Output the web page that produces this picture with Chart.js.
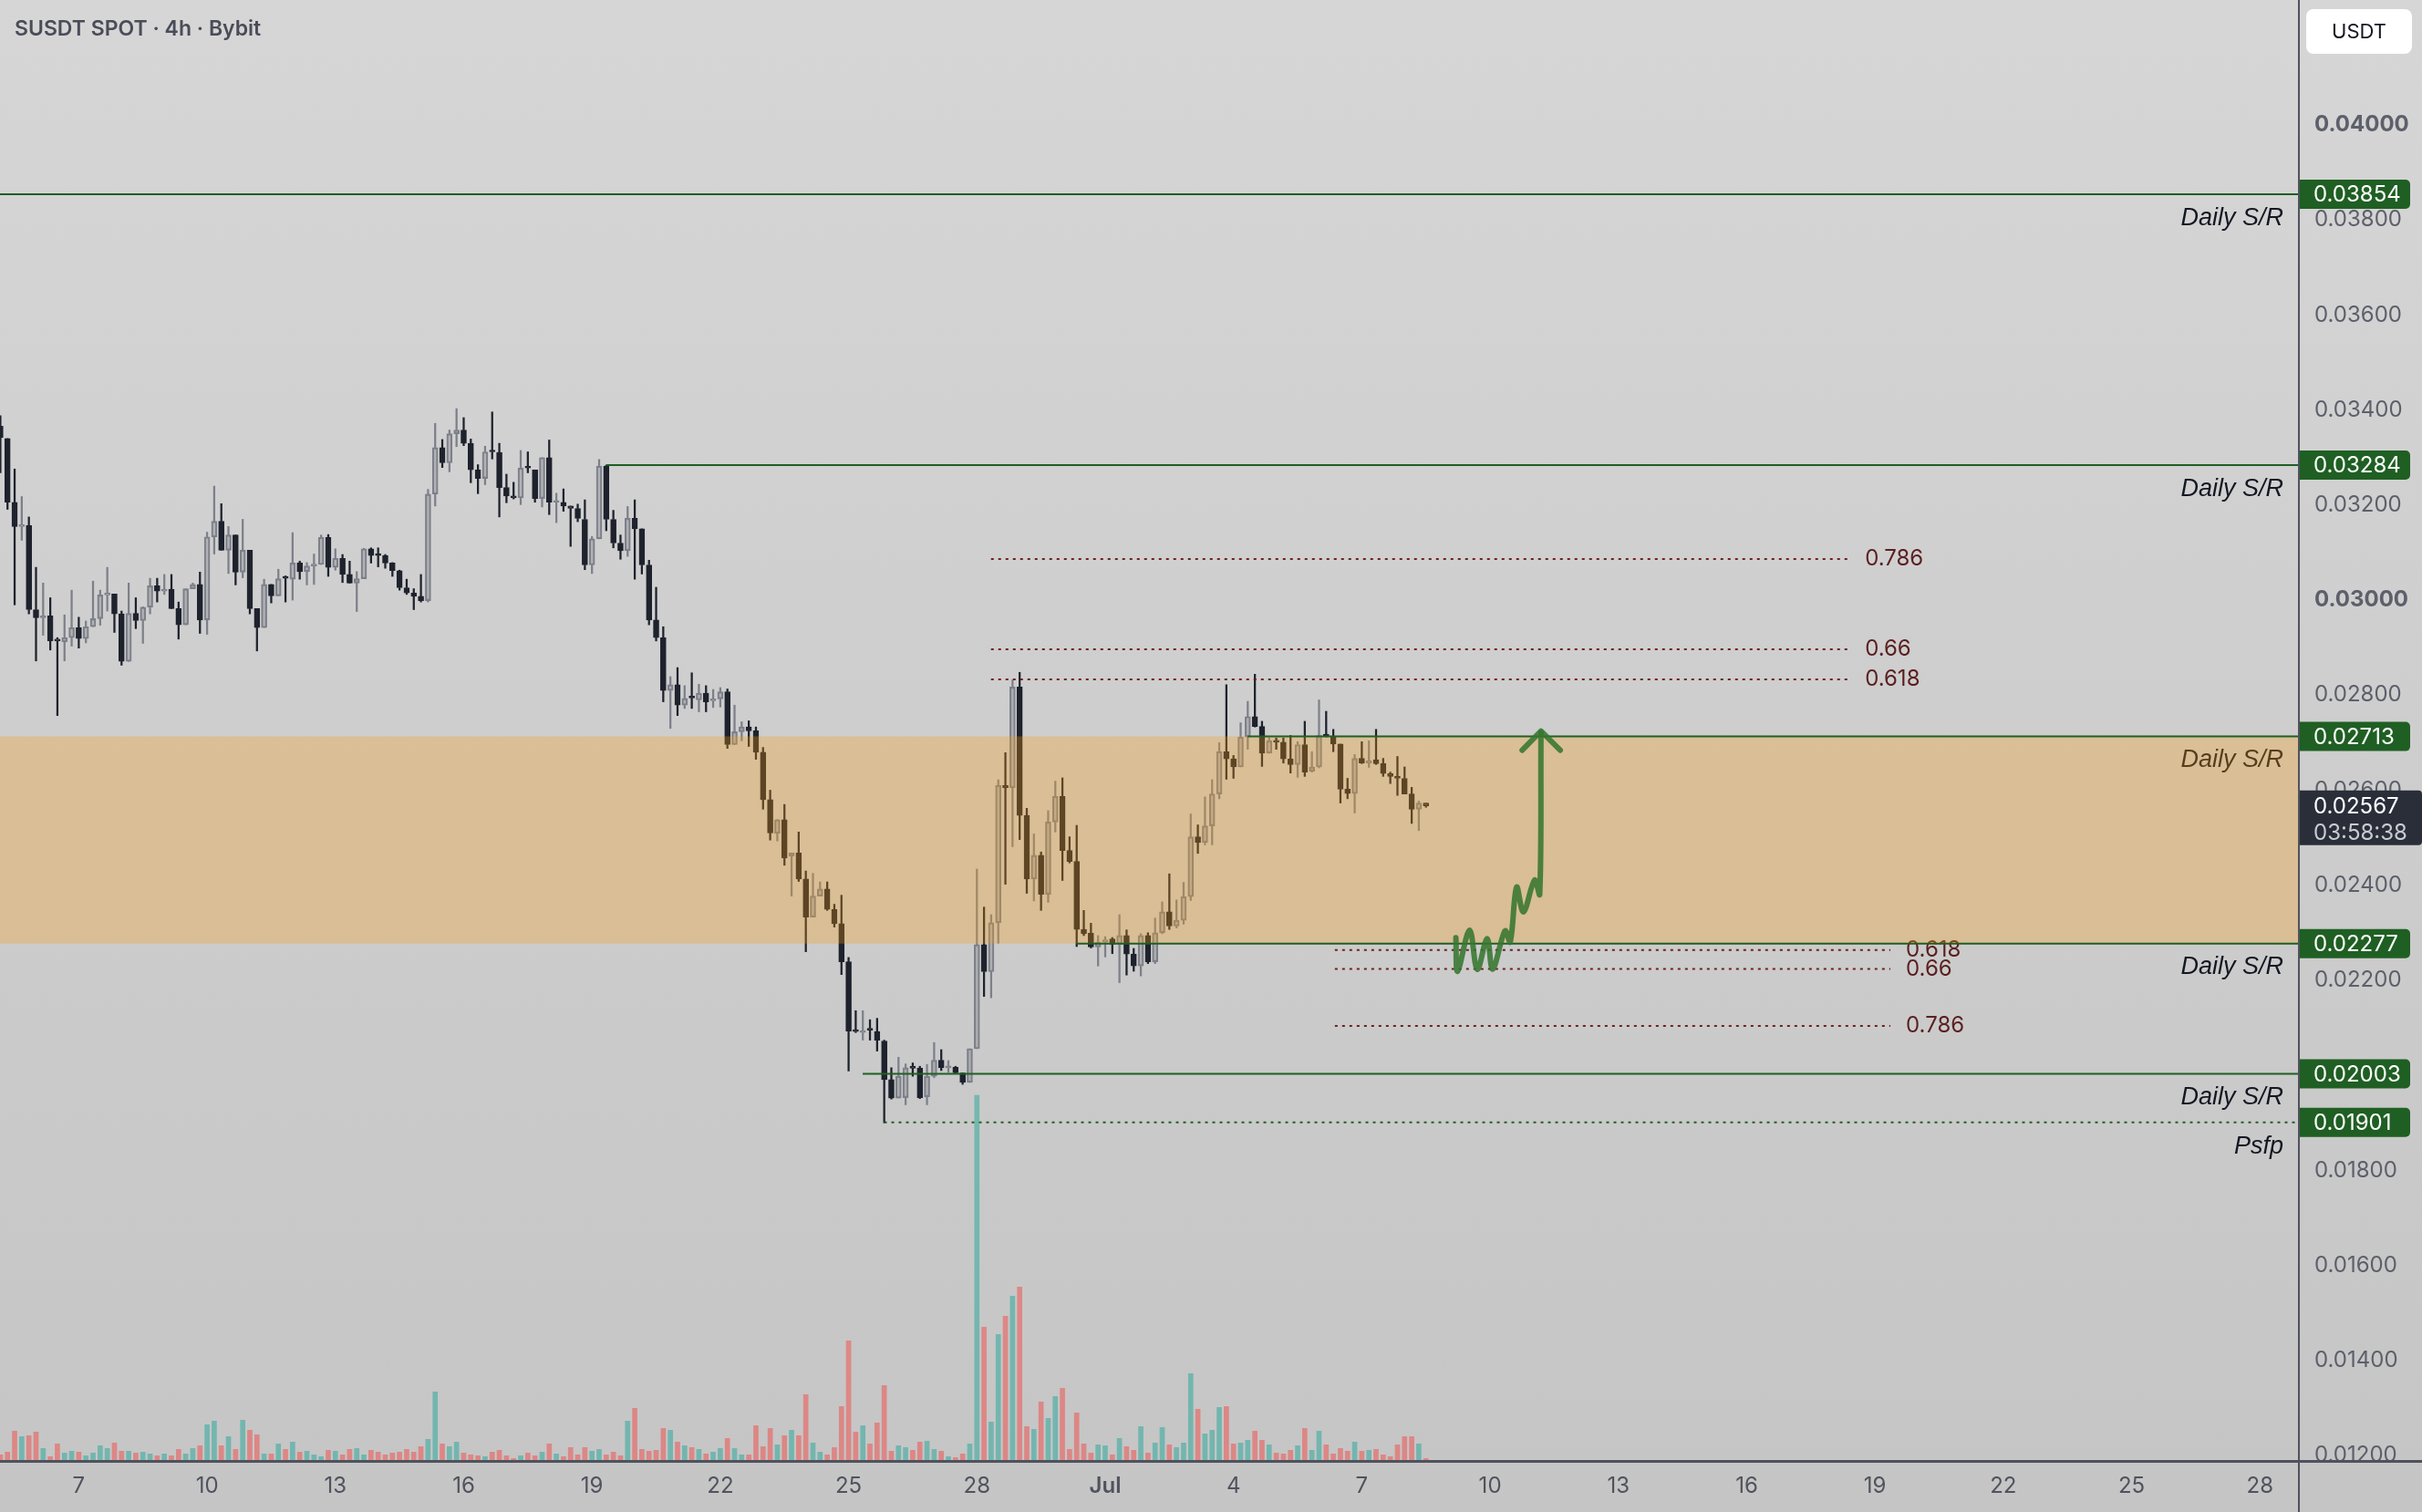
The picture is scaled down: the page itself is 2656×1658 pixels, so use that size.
<!DOCTYPE html>
<html lang="en">
<head>
<meta charset="UTF-8">
<title>SUSDT SPOT · 4h · Bybit</title>
<script src="https://cdn.jsdelivr.net/npm/chart.js"></script>
<style>
  html, body { margin: 0; padding: 0; }
  body { background: linear-gradient(#d6d6d6, #c5c5c5); }
  .wrap { position: relative; width: 2656px; height: 1658px; }
</style>
</head>
<body>
<div class="wrap"><canvas id="chart"></canvas></div>
<script>
// time axis is in "days of June" (31 = 1 Jul)
const firstCandle = 5 + 4 / 24;
const candleStep = 4 / 24;
const xMin = 5.158, xMax = 58.89;
const yMin = 0.011904, yMax = 0.042629;

const opens = [
  0.03366,0.03340,0.03206,0.03155,0.03157,0.02980,0.02963,0.02967,0.02918,0.02912,
  0.02921,0.02942,0.02919,0.02944,0.02961,0.03011,0.03013,0.02971,0.02871,0.02972,
  0.02957,0.02985,0.03030,0.03019,0.03023,0.02982,0.02948,0.03024,0.03033,0.02958,
  0.03133,0.03166,0.03105,0.03137,0.03059,0.03105,0.02982,0.02942,0.03033,0.03009,
  0.03049,0.03044,0.03078,0.03060,0.03072,0.03075,0.03132,0.03069,0.03088,0.03054,
  0.03036,0.03045,0.03108,0.03095,0.03094,0.03078,0.03062,0.03026,0.03015,0.03008,
  0.02999,0.03223,0.03321,0.03289,0.03350,0.03358,0.03330,0.03274,0.03256,0.03314,
  0.03311,0.03237,0.03219,0.03215,0.03280,0.03274,0.03214,0.03300,0.03206,0.03206,
  0.03198,0.03193,0.03170,0.03074,0.03129,0.03282,0.03170,0.03120,0.03104,0.03172,
  0.03150,0.03074,0.02958,0.02921,0.02810,0.02822,0.02779,0.02798,0.02790,0.02804,
  0.02788,0.02792,0.02807,0.02696,0.02723,0.02733,0.02725,0.02680,0.02580,0.02509,
  0.02538,0.02461,0.02468,0.02413,0.02333,0.02377,0.02392,0.02349,0.02319,0.02239,
  0.02095,0.02090,0.02099,0.02092,0.02072,0.01991,0.01952,0.01953,0.02019,0.02015,
  0.01955,0.01998,0.02032,0.02016,0.02017,0.02005,0.01985,0.02056,0.02275,0.02218,
  0.02321,0.02610,0.02605,0.02817,0.02547,0.02413,0.02463,0.02381,0.02533,0.02587,
  0.02473,0.02450,0.02307,0.02299,0.02270,0.02280,0.02287,0.02276,0.02294,0.02255,
  0.02230,0.02294,0.02239,0.02300,0.02344,0.02314,0.02326,0.02376,0.02502,0.02490,
  0.02525,0.02592,0.02681,0.02666,0.02649,0.02712,0.02755,0.02734,0.02678,0.02704,
  0.02701,0.02666,0.02654,0.02696,0.02640,0.02649,0.02716,0.02714,0.02697,0.02602,
  0.02593,0.02667,0.02657,0.02664,0.02656,0.02635,0.02629,0.02625,0.02592,0.02560,
  0.02573
];
const highs = [
  0.03388,0.03340,0.03276,0.03218,0.03175,0.03069,0.03036,0.03005,0.02921,0.02969,
  0.03021,0.02964,0.02956,0.03040,0.03021,0.03069,0.03013,0.02977,0.03036,0.03005,
  0.02986,0.03046,0.03046,0.03054,0.03054,0.02996,0.03024,0.03036,0.03059,0.03143,
  0.03240,0.03203,0.03155,0.03137,0.03170,0.03105,0.02982,0.03044,0.03033,0.03065,
  0.03051,0.03142,0.03082,0.03079,0.03097,0.03137,0.03138,0.03108,0.03096,0.03082,
  0.03060,0.03109,0.03110,0.03110,0.03096,0.03079,0.03063,0.03044,0.03024,0.03054,
  0.03233,0.03372,0.03338,0.03358,0.03403,0.03384,0.03339,0.03285,0.03324,0.03396,
  0.03330,0.03265,0.03248,0.03315,0.03312,0.03274,0.03300,0.03337,0.03225,0.03234,
  0.03198,0.03202,0.03211,0.03134,0.03296,0.03284,0.03189,0.03137,0.03197,0.03211,
  0.03150,0.03084,0.03027,0.02944,0.02839,0.02858,0.02820,0.02847,0.02823,0.02820,
  0.02812,0.02816,0.02813,0.02779,0.02744,0.02746,0.02733,0.02690,0.02600,0.02538,
  0.02570,0.02468,0.02512,0.02430,0.02425,0.02407,0.02407,0.02360,0.02379,0.02248,
  0.02136,0.02136,0.02117,0.02120,0.02074,0.02016,0.02038,0.02024,0.02026,0.02019,
  0.02023,0.02069,0.02054,0.02031,0.02019,0.02005,0.02056,0.02434,0.02354,0.02338,
  0.02622,0.02679,0.02832,0.02848,0.02562,0.02508,0.02470,0.02557,0.02619,0.02626,
  0.02502,0.02526,0.02347,0.02320,0.02294,0.02292,0.02290,0.02338,0.02306,0.02267,
  0.02298,0.02300,0.02331,0.02365,0.02424,0.02369,0.02406,0.02550,0.02527,0.02586,
  0.02622,0.02700,0.02822,0.02673,0.02742,0.02787,0.02844,0.02745,0.02710,0.02710,
  0.02710,0.02715,0.02702,0.02745,0.02681,0.02790,0.02766,0.02728,0.02697,0.02625,
  0.02675,0.02702,0.02704,0.02728,0.02667,0.02638,0.02671,0.02649,0.02606,0.02577,
  0.02573
];
const lows = [
  0.03268,0.03191,0.02990,0.03126,0.02971,0.02872,0.02926,0.02895,0.02757,0.02872,
  0.02903,0.02899,0.02910,0.02944,0.02947,0.02977,0.02932,0.02863,0.02871,0.02940,
  0.02909,0.02971,0.02996,0.03012,0.02982,0.02918,0.02948,0.03024,0.02930,0.02928,
  0.03097,0.03105,0.03056,0.03032,0.03047,0.02971,0.02893,0.02942,0.02994,0.03009,
  0.02996,0.03000,0.03044,0.03032,0.03033,0.03075,0.03050,0.03063,0.03037,0.03036,
  0.02976,0.03045,0.03078,0.03070,0.03067,0.03050,0.03021,0.03012,0.02980,0.02996,
  0.02996,0.03198,0.03279,0.03270,0.03323,0.03325,0.03247,0.03224,0.03243,0.03297,
  0.03175,0.03205,0.03213,0.03201,0.03268,0.03206,0.03196,0.03180,0.03163,0.03187,
  0.03113,0.03165,0.03064,0.03056,0.03129,0.03146,0.03110,0.03086,0.03092,0.03044,
  0.03055,0.02948,0.02914,0.02786,0.02730,0.02757,0.02772,0.02772,0.02765,0.02765,
  0.02774,0.02775,0.02688,0.02696,0.02704,0.02692,0.02665,0.02560,0.02495,0.02493,
  0.02442,0.02377,0.02408,0.02260,0.02333,0.02377,0.02347,0.02312,0.02212,0.02009,
  0.02090,0.02074,0.02074,0.02051,0.01900,0.01950,0.01952,0.01938,0.01998,0.01951,
  0.01938,0.01995,0.02010,0.02006,0.02003,0.01981,0.01985,0.02056,0.02166,0.02163,
  0.02278,0.02402,0.02481,0.02496,0.02383,0.02367,0.02347,0.02364,0.02512,0.02410,
  0.02447,0.02271,0.02294,0.02268,0.02230,0.02249,0.02256,0.02195,0.02211,0.02219,
  0.02209,0.02235,0.02235,0.02298,0.02307,0.02310,0.02318,0.02368,0.02467,0.02485,
  0.02485,0.02582,0.02623,0.02625,0.02649,0.02686,0.02733,0.02650,0.02678,0.02686,
  0.02657,0.02636,0.02627,0.02629,0.02638,0.02647,0.02712,0.02681,0.02573,0.02582,
  0.02552,0.02656,0.02648,0.02654,0.02629,0.02614,0.02589,0.02592,0.02530,0.02515,
  0.02564
];
const closes = [
  0.03342,0.03206,0.03155,0.03158,0.02980,0.02963,0.02965,0.02914,0.02914,0.02921,
  0.02942,0.02919,0.02944,0.02961,0.03011,0.03014,0.02971,0.02871,0.02972,0.02957,
  0.02985,0.03030,0.03019,0.03022,0.02982,0.02948,0.03024,0.03033,0.02958,0.03133,
  0.03166,0.03105,0.03137,0.03059,0.03105,0.02982,0.02942,0.03033,0.03009,0.03045,
  0.03046,0.03078,0.03060,0.03072,0.03075,0.03132,0.03069,0.03088,0.03054,0.03036,
  0.03045,0.03108,0.03094,0.03094,0.03078,0.03062,0.03026,0.03015,0.03008,0.02999,
  0.03223,0.03321,0.03289,0.03350,0.03358,0.03330,0.03274,0.03256,0.03312,0.03312,
  0.03237,0.03219,0.03215,0.03278,0.03278,0.03214,0.03300,0.03206,0.03209,0.03198,
  0.03193,0.03172,0.03074,0.03129,0.03282,0.03170,0.03120,0.03104,0.03172,0.03150,
  0.03074,0.02958,0.02921,0.02810,0.02822,0.02779,0.02793,0.02794,0.02804,0.02786,
  0.02792,0.02807,0.02696,0.02723,0.02733,0.02725,0.02680,0.02580,0.02510,0.02538,
  0.02457,0.02468,0.02413,0.02333,0.02377,0.02392,0.02349,0.02319,0.02239,0.02093,
  0.02092,0.02093,0.02095,0.02074,0.01991,0.01952,0.01998,0.02016,0.02015,0.01953,
  0.01998,0.02032,0.02016,0.02019,0.02005,0.01985,0.02056,0.02275,0.02218,0.02321,
  0.02610,0.02605,0.02817,0.02547,0.02413,0.02463,0.02381,0.02533,0.02587,0.02473,
  0.02450,0.02307,0.02298,0.02270,0.02280,0.02285,0.02276,0.02294,0.02255,0.02230,
  0.02294,0.02239,0.02300,0.02344,0.02314,0.02326,0.02376,0.02502,0.02490,0.02525,
  0.02592,0.02681,0.02666,0.02649,0.02712,0.02755,0.02734,0.02678,0.02704,0.02701,
  0.02666,0.02654,0.02696,0.02638,0.02649,0.02715,0.02714,0.02697,0.02602,0.02593,
  0.02667,0.02657,0.02662,0.02656,0.02635,0.02629,0.02625,0.02592,0.02560,0.02573,
  0.02567
];
// relative volume (no scale shown on the chart)
const volumes = [
  5.7,8.7,31.7,25.7,26.7,30.7,12.7,3.7,17.7,7.7,
  9.7,8.7,4.7,7.7,15.7,12.7,18.7,9.7,9.7,7.7,
  8.7,6.7,4.7,6.7,4.7,11.7,6.7,12.7,15.7,38.7,
  42.7,15.7,25.7,11.7,43.7,32.7,27.7,6.7,6.7,17.7,
  11.7,19.7,8.7,9.7,5.7,3.7,10.7,9.7,5.7,11.7,
  12.7,5.7,10.7,8.7,5.7,7.7,8.7,11.7,8.7,14.7,
  22.7,74.7,17.7,14.7,19.7,7.7,5.7,4.7,3.7,8.7,
  10.7,4.7,1.7,4.7,7.7,4.7,8.7,17.7,6.7,3.7,
  13.7,5.7,13.7,9.7,11.7,5.7,8.7,4.7,42.7,56.7,
  11.7,9.7,10.7,34.7,32.7,19.7,15.7,13.7,11.7,6.7,
  8.7,12.7,23.7,12.7,5.7,5.7,37.7,14.7,34.7,16.7,
  26.7,32.7,26.7,71.7,18.7,8.7,5.7,13.7,58.7,130.7,
  30.7,37.7,17.7,40.7,81.7,9.7,15.7,13.7,10.7,19.7,
  20.7,11.7,9.7,3.7,2.7,6.7,17.7,400,145.7,41.7,
  137.7,157.7,179.7,189.7,36.7,33.7,63.7,45.7,69.7,78.7,
  11.7,51.7,17.7,7.7,16.7,15.7,5.7,23.7,14.7,10.7,
  36.7,7.7,18.7,35.7,16.7,13.7,18.7,94.7,55.7,28.7,
  32.7,57.7,58.7,17.7,18.7,21.7,31.7,21.7,16.7,7.7,
  6.7,10.7,15.7,34.7,10.7,31.7,16.7,6.7,12.7,9.7,
  19.7,9.7,10.7,11.7,5.7,3.7,16.7,25.7,25.7,17.7,
  1.7
];
const volumeMax = 1601;

const dayTicks = [7, 10, 13, 16, 19, 22, 25, 28, 31, 34, 37, 40, 43, 46, 49, 52, 55, 58];
const dayLabels = ['7', '10', '13', '16', '19', '22', '25', '28', 'Jul', '4', '7', '10', '13', '16', '19', '22', '25', '28'];
const priceTicks = [0.012, 0.014, 0.016, 0.018, 0.022, 0.024, 0.026, 0.028, 0.030, 0.032, 0.034, 0.036, 0.038, 0.040];
const boldPrices = [0.03, 0.04];

// drawn levels
const srLevels = [0.03854, 0.03284, 0.02713, 0.02277, 0.02003];
const srStart = [5.158, 19.33, 34.33, 30.33, 25.33];
const psfpLevel = 0.01901, psfpStart = 25.83;
const zoneTop = 0.02713, zoneBottom = 0.02277;
const fibRatios = [0.618, 0.66, 0.786];
const fibUpLow = 0.01901, fibUpHigh = 0.03409, fibUpFrom = 28.33, fibUpTo = 48.36;
const fibDownHigh = 0.0285, fibDownLow = 0.01901, fibDownFrom = 36.37, fibDownTo = 49.36;
const lastPrice = 0.02567, countdown = '03:58:38';

// hand-drawn projection path
const pathX = [39.20, 39.24, 39.52, 39.70, 39.93, 40.06, 40.35, 40.47, 40.62, 40.78, 41.04, 41.16, 41.19];
const pathY = [0.022895, 0.02219, 0.023054, 0.022229, 0.022876, 0.022235, 0.023041, 0.022805, 0.023962, 0.023438, 0.02411, 0.023808, 0.027213];
const headX = [40.75, 41.19, 41.64];
const headY = [0.02684, 0.027244, 0.02684];

Chart.defaults.font.family = 'Inter, "Noto Sans", sans-serif';

const times = opens.map((_, i) => firstCandle + i * candleStep);
const isUp = closes.map((c, i) => c >= opens[i]);
const upLine = '#7d808a', downCol = '#1e222d';
const upFill = 'rgba(125,128,138,0.38)';
const green = '#1f5f23', fibRed = 'rgba(105,22,22,0.95)';

const flat = (from, to, v) => [{ x: from, y: v }, { x: to, y: v }];
const levelLine = (data, color, dash) => ({
  type: 'line', data, borderColor: color, borderWidth: 2, borderDash: dash || [],
  pointRadius: 0, fill: false, order: 2
});

const datasets = [];
// projection arrow
datasets.push({
  type: 'line', data: pathX.map((x, i) => ({ x, y: pathY[i] })),
  borderColor: 'rgba(55,118,48,0.88)', borderWidth: 6, tension: 0.35,
  borderCapStyle: 'round', borderJoinStyle: 'round', pointRadius: 0, order: 1
});
datasets.push({
  type: 'line', data: headX.map((x, i) => ({ x, y: headY[i] })),
  borderColor: 'rgba(55,118,48,0.88)', borderWidth: 6, tension: 0,
  borderCapStyle: 'round', borderJoinStyle: 'round', pointRadius: 0, order: 1
});
// S/R lines
srLevels.forEach((v, i) => datasets.push(levelLine(flat(srStart[i], xMax, v), green)));
datasets.push(levelLine(flat(psfpStart, xMax, psfpLevel), green, [3, 5]));
// fib levels
fibRatios.forEach(r => {
  datasets.push(levelLine(flat(fibUpFrom, fibUpTo, fibUpLow + r * (fibUpHigh - fibUpLow)), fibRed, [3, 5]));
  datasets.push(levelLine(flat(fibDownFrom, fibDownTo, fibDownHigh - r * (fibDownHigh - fibDownLow)), fibRed, [3, 5]));
});
// S/R zone (drawn over the candles, semi transparent)
datasets.push({
  type: 'line', data: flat(xMin, xMax, zoneTop), borderWidth: 0, pointRadius: 0,
  fill: { value: zoneBottom }, backgroundColor: 'rgba(248,155,18,0.29)', order: 3
});
// candle bodies
datasets.push({
  type: 'bar', data: times.map((t, i) => ({ x: t, y: [opens[i], closes[i]] })),
  backgroundColor: isUp.map(u => u ? upFill : downCol),
  borderColor: isUp.map(u => u ? upLine : downCol),
  borderWidth: 1.5, borderSkipped: false, barThickness: 6, minBarLength: 2,
  grouped: false, order: 5
});
// wicks (upper and lower so hollow bodies stay clean)
datasets.push({
  type: 'bar', data: times.map((t, i) => ({ x: t, y: [Math.max(opens[i], closes[i]), highs[i]] })),
  backgroundColor: isUp.map(u => u ? upLine : downCol), barThickness: 1.6, grouped: false, order: 6
});
datasets.push({
  type: 'bar', data: times.map((t, i) => ({ x: t, y: [lows[i], Math.min(opens[i], closes[i])] })),
  backgroundColor: isUp.map(u => u ? upLine : downCol), barThickness: 1.6, grouped: false, order: 6
});
// volume
datasets.push({
  type: 'bar', yAxisID: 'yv', data: times.map((t, i) => ({ x: t, y: volumes[i] })),
  backgroundColor: isUp.map(u => u ? 'rgba(38,166,154,0.52)' : 'rgba(239,83,80,0.55)'),
  barThickness: 5, grouped: false, order: 7
});

const annotate = {
  id: 'annotate',
  beforeDatasetsDraw(chart) {
    const { ctx, chartArea: a, scales: { x, y } } = chart;
    ctx.save();
    ctx.textBaseline = 'middle';
    ctx.textAlign = 'right';
    ctx.fillStyle = '#131722';
    ctx.font = 'italic 27px "Liberation Sans", sans-serif';
    srLevels.forEach(v => ctx.fillText('Daily S/R', a.right - 16, y.getPixelForValue(v) + 26));
    ctx.fillText('Psfp', a.right - 16, y.getPixelForValue(psfpLevel) + 27);
    ctx.textAlign = 'left';
    ctx.fillStyle = '#5b1f1f';
    ctx.font = '24px Inter';
    fibRatios.forEach(r => {
      ctx.fillText(String(r), x.getPixelForValue(fibUpTo) + 19, y.getPixelForValue(fibUpLow + r * (fibUpHigh - fibUpLow)));
      ctx.fillText(String(r), x.getPixelForValue(fibDownTo) + 17, y.getPixelForValue(fibDownHigh - r * (fibDownHigh - fibDownLow)));
    });
    ctx.restore();
  },
  afterDraw(chart) {
    const { ctx, chartArea: a, scales: { y } } = chart;
    const W = chart.width;
    ctx.save();
    // pane separators
    ctx.fillStyle = '#4f525d';
    ctx.fillRect(a.right, 0, 2, chart.height);
    ctx.fillRect(0, a.bottom, W, 3);
    // price tags
    ctx.font = '24px Inter';
    ctx.textBaseline = 'middle';
    ctx.textAlign = 'left';
    srLevels.concat([psfpLevel]).forEach(v => {
      const py = y.getPixelForValue(v);
      ctx.fillStyle = green;
      ctx.beginPath();
      ctx.roundRect(a.right + 2, py - 16, 121, 32, [0, 5, 5, 0]);
      ctx.fill();
      ctx.fillStyle = '#ffffff';
      ctx.fillText(v.toFixed(5), a.right + 17, py + 1);
    });
    // last price + countdown
    const lp = y.getPixelForValue(lastPrice);
    ctx.fillStyle = '#2a2e39';
    ctx.beginPath();
    ctx.roundRect(a.right + 2, lp - 17, W - a.right - 2, 60, [0, 4, 4, 0]);
    ctx.fill();
    ctx.fillStyle = '#ffffff';
    ctx.fillText(lastPrice.toFixed(5), a.right + 17, lp + 1);
    ctx.fillStyle = '#c9cbd1';
    ctx.fillText(countdown, a.right + 17, lp + 30);
    // currency button
    ctx.fillStyle = '#ffffff';
    ctx.beginPath();
    ctx.roundRect(a.right + 9, 10, 116, 49, 8);
    ctx.fill();
    ctx.fillStyle = '#131722';
    ctx.font = '22px Inter';
    ctx.textAlign = 'center';
    ctx.fillText('USDT', a.right + 67, 35);
    // title
    ctx.textAlign = 'left';
    ctx.fillStyle = '#4a4c58';
    ctx.font = '600 23px Inter';
    ctx.fillText('SUSDT SPOT · 4h · Bybit', 16, 32);
    ctx.restore();
  }
};

new Chart(document.getElementById('chart'), {
  type: 'bar',
  data: { datasets },
  options: {
    responsive: true,
    maintainAspectRatio: false,
    animation: false,
    layout: { padding: 0 },
    plugins: { legend: { display: false }, tooltip: { enabled: false } },
    scales: {
      x: {
        type: 'linear', min: xMin, max: xMax, offset: false,
        grid: { display: false, drawTicks: false },
        border: { display: false },
        afterBuildTicks: s => { s.ticks = dayTicks.map(v => ({ value: v })); },
        afterFit: s => { s.height = 57; s.paddingLeft = 0; s.paddingRight = 0; },
        ticks: {
          autoSkip: false, maxRotation: 0, padding: 14, color: '#50535e',
          font: c => ({ size: 24, weight: c.tick && c.tick.value === 31 ? '600' : '400' }),
          callback: (v, i) => dayLabels[i]
        }
      },
      y: {
        type: 'linear', position: 'right', min: yMin, max: yMax,
        grid: { display: false, drawTicks: false },
        border: { display: false },
        afterBuildTicks: s => { s.ticks = priceTicks.map(v => ({ value: v })); },
        afterFit: s => { s.width = 136; s.paddingTop = 0; s.paddingBottom = 0; },
        ticks: {
          autoSkip: false, padding: 18, color: '#5d606b',
          font: c => ({ size: 24, weight: c.tick && boldPrices.some(b => Math.abs(b - c.tick.value) < 1e-9) ? '700' : '400' }),
          callback: v => v.toFixed(5)
        }
      },
      yv: { display: false, min: 0, max: volumeMax }
    }
  },
  plugins: [annotate]
});
</script>
</body>
</html>
